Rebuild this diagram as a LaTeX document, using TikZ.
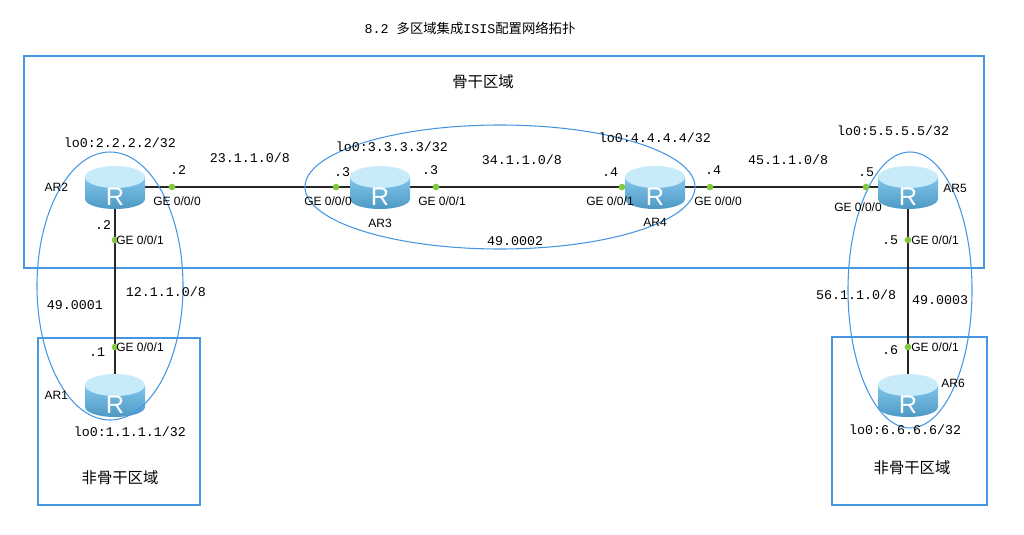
\documentclass[tikz,border=0pt]{standalone}
\usepackage{fontspec}
\setmainfont{Liberation Sans}
\setmonofont{Liberation Mono}
\newfontfamily\cjk{Noto Sans CJK SC}
\usetikzlibrary{positioning, calc}

\definecolor{areablue}{RGB}{70,150,225}
\definecolor{portgreen}{RGB}{130,200,60}
\definecolor{rtop}{RGB}{200,235,250}
\definecolor{rbody}{RGB}{90,180,230}

\tikzset{
  area/.style={draw=areablue, line width=0.8pt},
  link/.style={line width=2pt, black!85},
  port/.style={circle, fill=portgreen, inner sep=0pt, minimum size=5pt},
  mono/.style={font=\fontsize{10}{11}\selectfont\ttfamily},
  sans/.style={font=\fontsize{9}{10}\selectfont},
  zh/.style={font=\fontsize{11.5}{13}\selectfont\cjk},
  rt/.style={inner sep=0pt, minimum width=60, minimum height=46}
}

% router icon at a point
\newcommand\routericon[1]{%
  \shade[top color=rbody!75, bottom color=rbody!85!black] ($(#1)+(-30,-10)$) -- ($(#1)+(-30,12)$)
    arc[start angle=180, end angle=360, x radius=30, y radius=-10] -- ($(#1)+(30,-10)$) -- cycle;
  \fill[rtop] ($(#1)+(0,-10)$) ellipse[x radius=30, y radius=11];
  \node[text=white, font=\fontsize{19}{19}\selectfont] at ($(#1)+(0,10)$) {R};
}

\begin{document}
\begin{tikzpicture}[x=0.75pt, y=-0.75pt]
  \useasboundingbox (0,0) rectangle (1024,535);

  \node[mono] (title) at (470,28) {8.2 {\cjk 多区域集成}ISIS{\cjk 配置网络拓扑}};

  % areas
  \draw[area] (24,56) rectangle (984,268);
  \draw[area] (38,338) rectangle (200,505);
  \draw[area] (832,337) rectangle (987,505);
  \node[zh] (bb) at (483,82) {骨干区域};
  \node[zh] (nb1) at (120,478) {非骨干区域};
  \node[zh] (nb2) at (912,468) {非骨干区域};

  % routers
  \node[rt] (ar2) at (115,187) {};
  \node[rt] (ar3) at (380,187) {};
  \node[rt] (ar4) at (655,187) {};
  \node[rt] (ar5) at (908,187) {};
  \node[rt] (ar1) at (115,395) {};
  \node[rt] (ar6) at (908,395) {};

  % links
  \draw[link] (ar2.center) -- (ar3.center);
  \draw[link] (ar3.center) -- (ar4.center);
  \draw[link] (ar4.center) -- (ar5.center);
  \draw[link] (ar2.center) -- (ar1.center);
  \draw[link] (ar5.center) -- (ar6.center);

  \foreach \r in {ar2,ar3,ar4,ar5,ar1,ar6} {\routericon{\r.center}}

  % isis areas
  \draw[area] (110,286) ellipse[x radius=73, y radius=134];
  \draw[area] (500,187) ellipse[x radius=195, y radius=62];
  \draw[area] (910,290) ellipse[x radius=62, y radius=138];

  % ports
  \foreach \p/\x/\y in {p1/172/187, p2/336/187, p3/436/187, p4/622/187, p5/710/187,
    p6/866/187, p7/115/240, p8/115/347, p9/908/240, p10/908/347}
    \node[port] (\p) at (\x,\y) {};

  \node[sans] at (ar2.west) [left=2] {AR2};
  \node[sans] at (ar1.west) [left=2] {AR1};
  \node[sans] at (ar3.south) [below=4] {AR3};
  \node[sans] at (ar4.south) [below=4] {AR4};
  \node[sans] at (955,188) {AR5};
  \node[sans] at (953,383) {AR6};

  \foreach \t/\x/\y in {GE 0\slash 0\slash 0/177/201, GE 0\slash 0\slash 0/328/201,
    GE 0\slash 0\slash 1/442/201, GE 0\slash 0\slash 1/610/201,
    GE 0\slash 0\slash 0/718/201, GE 0\slash 0\slash 0/858/207,
    GE 0\slash 0\slash 1/140/240, GE 0\slash 0\slash 1/140/347,
    GE 0\slash 0\slash 1/935/240, GE 0\slash 0\slash 1/935/347}
    \node[sans] at (\x,\y) {\t};

  \foreach \t/\x/\y in {.2/178/170, .3/342/172, .3/430/170, .4/610/172, .4/713/170,
    .5/866/172, .2/103/225, .1/97/352, .5/890/240, .6/890/350,
    23.1.1.0\slash 8/250/158, 34.1.1.0\slash 8/522/160, 45.1.1.0\slash 8/788/160,
    12.1.1.0\slash 8/166/292, 56.1.1.0\slash 8/856/295,
    49.0001/75/305, 49.0002/515/241, 49.0003/940/300,
    lo0:2.2.2.2\slash 32/120/143, lo0:3.3.3.3\slash 32/392/147,
    lo0:4.4.4.4\slash 32/655/138, lo0:5.5.5.5\slash 32/893/131,
    lo0:1.1.1.1\slash 32/130/432, lo0:6.6.6.6\slash 32/905/430}
    \node[mono] at (\x,\y) {\t};
\end{tikzpicture}
\end{document}
